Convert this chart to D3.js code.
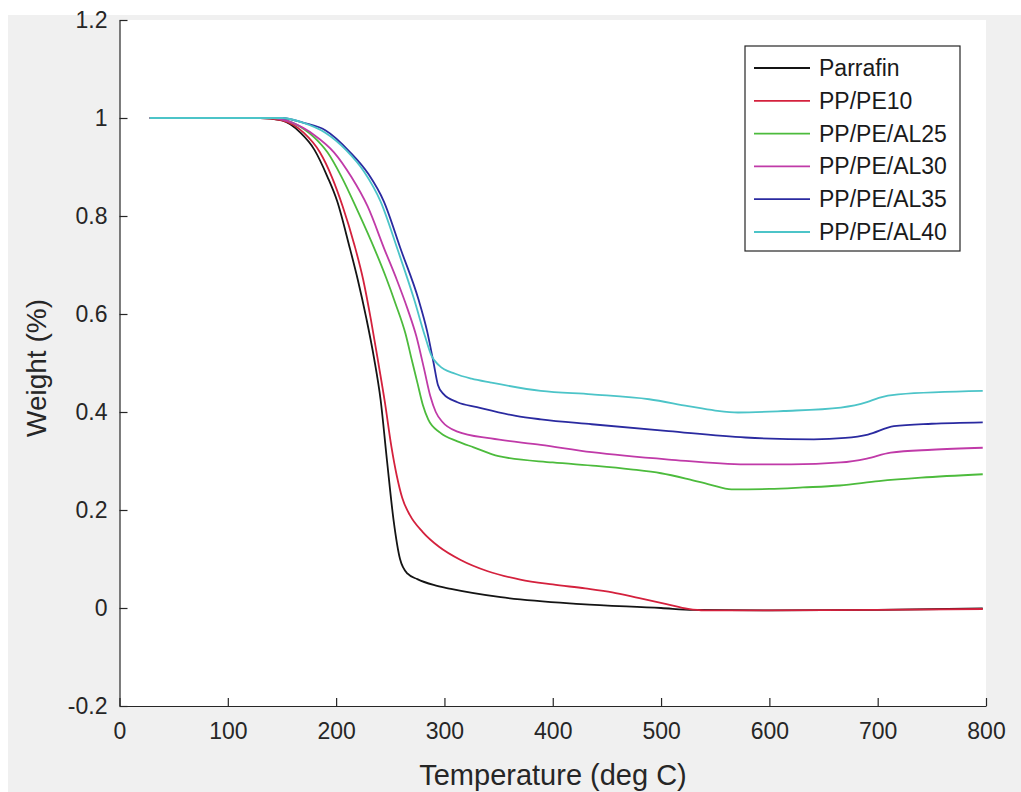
<!DOCTYPE html>
<html>
<head>
<meta charset="utf-8">
<script src="https://cdn.jsdelivr.net/npm/d3@7"></script>
<style>
  html, body { margin: 0; padding: 0; background: #fff; }
  svg { display: block; font-family: "Liberation Sans", Arial, Helvetica, sans-serif; }
</style>
</head>
<body>
<svg id="chart" width="1021" height="792"></svg>
<script>
/* TGA curves: weight fraction vs temperature (deg C) */
var seriesNames = ['Parrafin', 'PP/PE10', 'PP/PE/AL25', 'PP/PE/AL30', 'PP/PE/AL35', 'PP/PE/AL40'];
var seriesColors = ['#141414', '#d4213d', '#4cbb3c', '#c03aa8', '#2a2aa0', '#4cc4c8'];

var parrafin = [[28,1],[130,1],[150,0.995],[167,0.97],[180,0.935],[192,0.88],[201,0.83],[212,0.74],
  [220,0.67],[228,0.59],[235,0.51],[241,0.426],[247,0.30],[253,0.18],[259,0.1],[266,0.07],[275,0.059],
  [290,0.047],[306,0.039],[352,0.022],[426,0.008],[500,0.0],[530,-0.004],[600,-0.005],[700,-0.004],[797,-0.001]];
var ppPe10 = [[28,1],[130,1],[150,0.995],[170,0.97],[185,0.93],[196,0.88],[206,0.82],[217,0.74],
  [225,0.67],[232,0.59],[239,0.5],[245,0.42],[251,0.33],[256,0.27],[261,0.225],[268,0.19],[280,0.155],
  [295,0.125],[315,0.098],[340,0.075],[370,0.058],[400,0.048],[430,0.040],[455,0.032],[480,0.02],
  [505,0.008],[525,-0.002],[540,-0.005],[600,-0.005],[700,-0.004],[797,-0.002]];
var al25 = [[28,1],[140,1],[160,0.99],[180,0.96],[192,0.93],[205,0.88],[220,0.81],[236,0.73],
  [246,0.675],[255,0.62],[264,0.56],[270,0.505],[275,0.46],[280,0.415],[285,0.385],[296,0.358],
  [312,0.34],[327,0.328],[350,0.31],[400,0.297],[440,0.29],[472,0.283],[500,0.275],[525,0.263],
  [545,0.252],[565,0.242],[600,0.243],[631,0.246],[665,0.25],[701,0.259],[740,0.266],[797,0.273]];
var al30 = [[28,1],[140,1],[160,0.99],[180,0.965],[198,0.93],[214,0.88],[229,0.82],[245,0.73],
  [256,0.67],[266,0.61],[274,0.555],[281,0.49],[287,0.432],[292,0.40],[298,0.38],[312,0.36],
  [343,0.346],[389,0.333],[436,0.318],[507,0.303],[578,0.293],[620,0.293],[666,0.297],[690,0.305],
  [712,0.317],[750,0.323],[797,0.327]];
var al35 = [[28,1],[150,1],[170,0.99],[190,0.975],[213,0.93],[230,0.885],[244,0.83],[260,0.73],
  [276,0.63],[284,0.565],[290,0.5],[294,0.455],[299,0.437],[312,0.42],[330,0.41],[366,0.392],
  [389,0.385],[436,0.375],[507,0.361],[578,0.348],[641,0.344],[670,0.347],[691,0.354],[715,0.371],
  [750,0.376],[797,0.379]];
var al40 = [[28,1],[150,1],[170,0.99],[190,0.97],[209,0.935],[226,0.89],[241,0.83],[257,0.73],
  [272,0.63],[282,0.555],[288,0.515],[295,0.495],[310,0.478],[325,0.468],[343,0.46],[389,0.443],
  [436,0.436],[489,0.426],[525,0.412],[550,0.403],[571,0.399],[613,0.402],[666,0.409],[690,0.42],
  [701,0.429],[719,0.436],[797,0.443]];
var seriesData = [parrafin, ppPe10, al25, al30, al35, al40];

var xTicks = [0, 100, 200, 300, 400, 500, 600, 700, 800];
var yTicks = [-0.2, 0, 0.2, 0.4, 0.6, 0.8, 1, 1.2];

(function () {
  var svg = d3.select('#chart');
  var axisColor = '#262626';
  var plot = { left: 119.5, right: 986, top: 20, bottom: 706 };

  /* figure background (MATLAB grey) and white axes area */
  svg.append('rect').attr('x', 8).attr('y', 15).attr('width', 1013).attr('height', 777).attr('fill', '#f0f0f0');
  svg.append('rect').attr('x', plot.left).attr('y', plot.top)
    .attr('width', plot.right - plot.left).attr('height', plot.bottom - plot.top).attr('fill', '#fff');

  var x = d3.scaleLinear().domain([0, 800]).range([plot.left, plot.right]);
  var y = d3.scaleLinear().domain([-0.2, 1.2]).range([plot.bottom, plot.top]);

  /* curves */
  var line = d3.line()
    .x(function (d) { return x(d[0]); })
    .y(function (d) { return y(d[1]); })
    .curve(d3.curveMonotoneX);
  seriesData.forEach(function (s, i) {
    svg.append('path').datum(s)
      .attr('d', line)
      .attr('fill', 'none')
      .attr('stroke', seriesColors[i])
      .attr('stroke-width', 1.8)
      .attr('stroke-linejoin', 'round');
  });

  /* axes: inward ticks, no box; plain hyphen for negatives like MATLAB */
  var xAxis = d3.axisBottom(x).tickValues(xTicks).tickSizeInner(-8).tickSizeOuter(0).tickPadding(16)
    .tickFormat(function (d) { return String(d); });
  var gx = svg.append('g').attr('transform', 'translate(0,' + plot.bottom + ')').call(xAxis);
  var yAxis = d3.axisLeft(y).tickValues(yTicks).tickSizeInner(-8).tickSizeOuter(0).tickPadding(12)
    .tickFormat(function (d) { return String(+d.toFixed(1)); });
  var gy = svg.append('g').attr('transform', 'translate(' + plot.left + ',0)').call(yAxis);
  [gx, gy].forEach(function (g) {
    g.select('.domain').attr('stroke', axisColor).attr('stroke-width', 1.2);
    g.selectAll('.tick line').attr('stroke', axisColor).attr('stroke-width', 1.2);
    g.selectAll('.tick text').attr('fill', axisColor).style('font-size', '23px');
  });
  gx.selectAll('.tick text').attr('dy', '0.75em');

  /* axis labels */
  svg.append('text')
    .attr('x', 553).attr('y', 785)
    .attr('text-anchor', 'middle').attr('fill', axisColor).style('font-size', '29px')
    .text('Temperature (deg C)');
  svg.append('text')
    .attr('transform', 'translate(46,368) rotate(-90)')
    .attr('text-anchor', 'middle').attr('fill', axisColor).style('font-size', '28px')
    .text('Weight (%)');

  /* legend */
  var lg = svg.append('g');
  lg.append('rect').attr('x', 745).attr('y', 46).attr('width', 215).attr('height', 205)
    .attr('fill', '#fff').attr('stroke', axisColor).attr('stroke-width', 1.2);
  seriesNames.forEach(function (name, i) {
    var ly = 68 + i * 32.8;
    lg.append('line').attr('x1', 754).attr('x2', 810).attr('y1', ly).attr('y2', ly)
      .attr('stroke', seriesColors[i]).attr('stroke-width', 1.8);
    lg.append('text').attr('x', 819).attr('y', ly).attr('dy', '0.35em')
      .attr('fill', '#1a1a1a').style('font-size', '23px')
      .text(name);
  });
})();
</script>
</body>
</html>
